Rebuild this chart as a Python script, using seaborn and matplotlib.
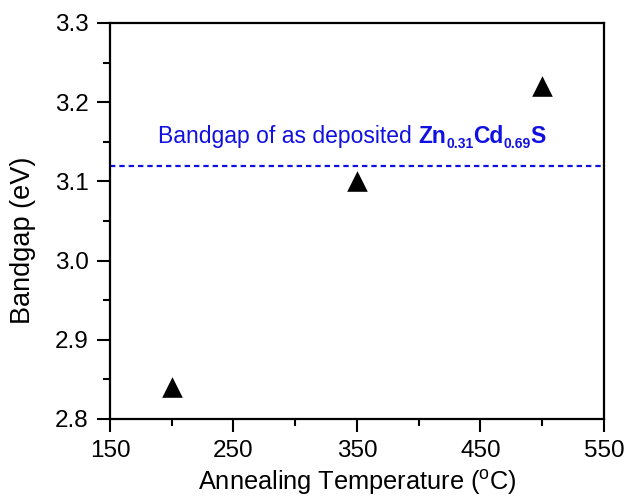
import matplotlib
matplotlib.use("Agg")
import matplotlib.pyplot as plt
from matplotlib.ticker import MultipleLocator
import seaborn as sns
import pandas as pd

temperature = [200, 350, 500]
bandgap = [2.84, 3.10, 3.22]
deposited_bandgap = 3.12
x_ticks = [150, 250, 350, 450, 550]
y_ticks = [2.8, 2.9, 3.0, 3.1, 3.2, 3.3]
label_plain = "Bandgap of as deposited "
label_parts = [("Zn", False), ("0.31", True), ("Cd", False), ("0.69", True), ("S", False)]

sns.set_theme(style="ticks")
plt.rcParams['font.family'] = ['Liberation Sans', 'DejaVu Sans']
plt.rcParams['mathtext.fontset'] = 'custom'
plt.rcParams['mathtext.rm'] = 'Liberation Sans'
plt.rcParams['mathtext.it'] = 'Liberation Sans:italic'
plt.rcParams['mathtext.bf'] = 'Liberation Sans:bold'
for k in ['text.color', 'axes.labelcolor', 'xtick.color', 'ytick.color', 'axes.edgecolor']:
    plt.rcParams[k] = 'black'

df = pd.DataFrame({"T": temperature, "Eg": bandgap})

fig = plt.figure(figsize=(6.27, 5.04), dpi=100)
ax = fig.add_axes([0.1754, 0.1687, 0.9633 - 0.1754, 0.9544 - 0.1687])

sns.scatterplot(data=df, x="T", y="Eg", marker="^", s=220, color="black",
                edgecolor="black", linewidth=0, ax=ax, zorder=3)
ax.axhline(deposited_bandgap, color="#1010e0", lw=1.6, linestyle=(0, (2.4, 1.8)), zorder=2)

blue = "#1010e0"
text_y = 3.148
prev = ax.text(189, text_y, label_plain, color=blue, fontsize=16.5, ha="left", va="baseline")
for part, is_sub in label_parts:
    prev = ax.annotate(part, xy=(1, text_y), xycoords=(prev, "data"),
                       xytext=(0, -3.6 if is_sub else 0), textcoords="offset points",
                       color=blue, fontsize=10 if is_sub else 16.5, fontweight="bold",
                       ha="left", va="baseline")

ax.set_xlim(150, 550)
ax.set_ylim(2.8, 3.3)
ax.set_xticks(x_ticks)
ax.set_yticks(y_ticks)
ax.set_yticklabels([f"{v:.1f}" for v in y_ticks])
ax.xaxis.set_minor_locator(MultipleLocator(50))
ax.yaxis.set_minor_locator(MultipleLocator(0.05))
ax.tick_params(which="major", direction="out", length=9.4, width=1.5, labelsize=17.5)
ax.tick_params(axis="x", which="major", pad=6)
ax.tick_params(axis="y", which="major", pad=6)
ax.tick_params(which="minor", direction="out", length=5, width=1.5)
ax.tick_params(top=False, right=False, which="both")
for sp in ax.spines.values():
    sp.set_linewidth(1.6)
    sp.set_color("black")
    sp.set_visible(True)

ax.set_xlabel(r"Annealing Temperature ($^{\rm o}$C)", fontsize=18.3, labelpad=4)
ax.set_ylabel("Bandgap (eV)", fontsize=19.5)
ax.yaxis.set_label_coords(-0.150, 0.452)

fig.savefig("out.png", dpi=100)
